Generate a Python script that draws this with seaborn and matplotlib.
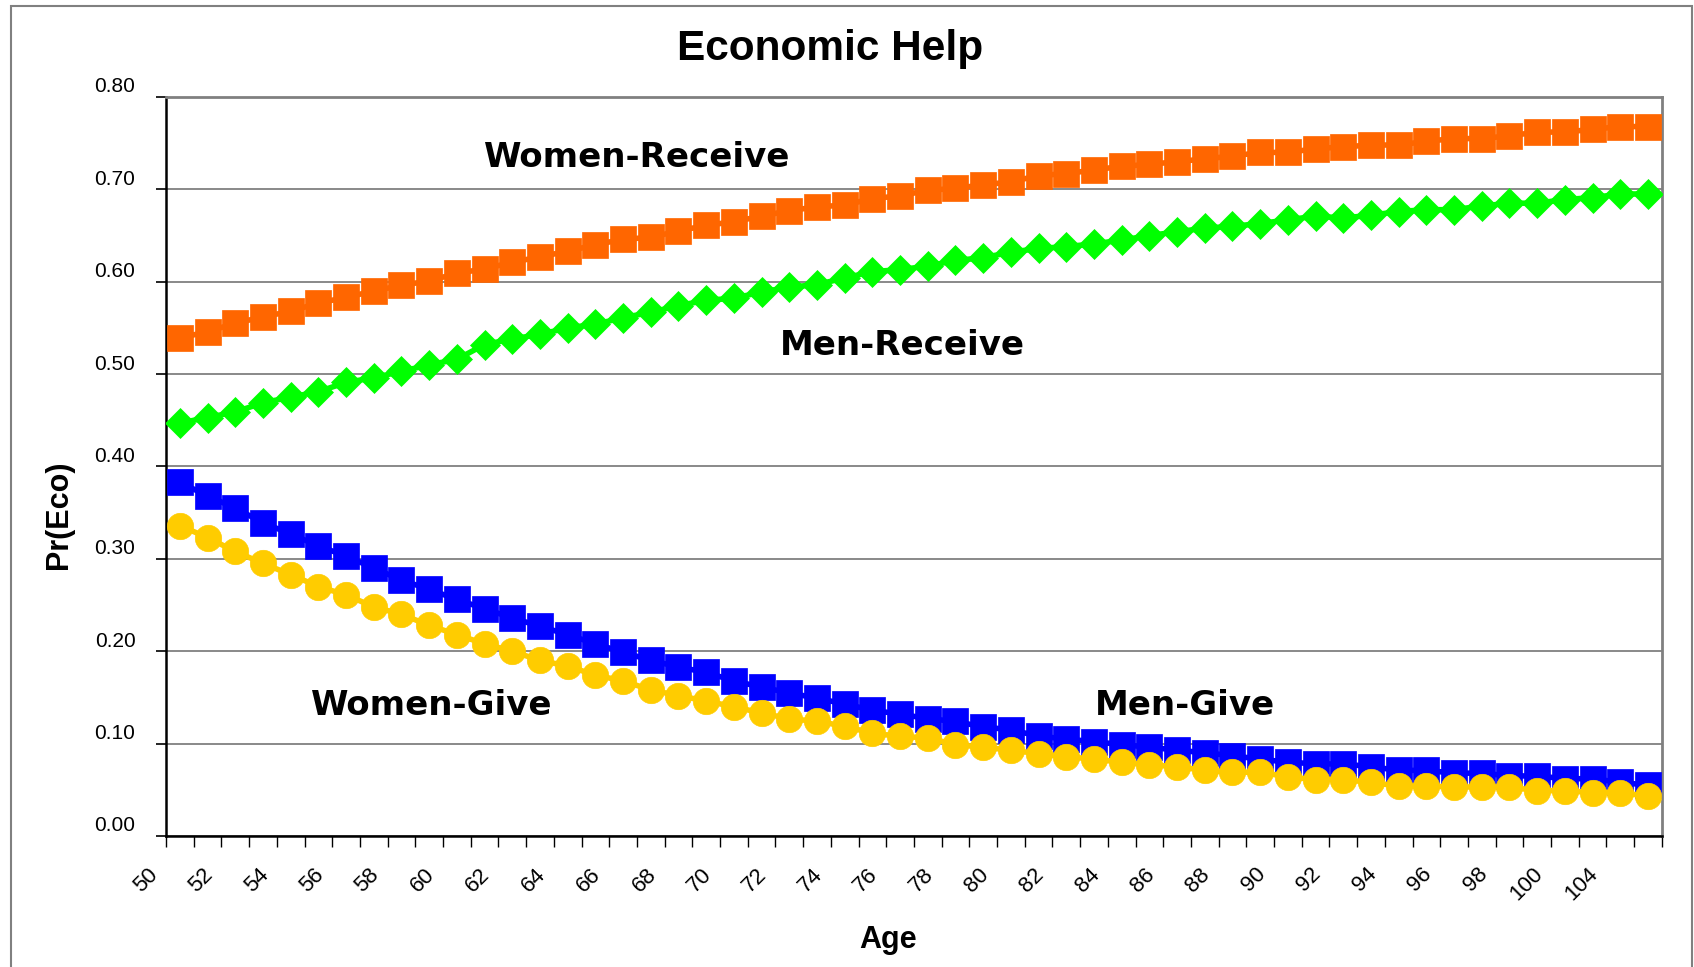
# # Economic Help 차트 재현
#
# **목표:** 나이별 경제적 도움(주기/받기) 확률 그래프를 seaborn 으로 다시 그립니다.

# ## 1.1. 라이브러리 임포트 및 설정

import numpy as np
import pandas as pd
import matplotlib.pyplot as plt
import matplotlib.transforms as mtransforms
import seaborn as sns

sns.set_style('white')
# set_style 이후에 폰트 / 글자색 지정
plt.rcParams['font.family'] = ['Liberation Sans', 'DejaVu Sans']
plt.rcParams['text.color'] = 'black'
plt.rcParams['xtick.color'] = 'black'
plt.rcParams['ytick.color'] = 'black'
plt.rcParams['axes.unicode_minus'] = False

# ## 1.2. 데이터

ages = list(range(50, 101)) + [102, 104, 106]

women_receive = [0.539, 0.546, 0.555, 0.562, 0.568, 0.577, 0.583, 0.590, 0.596, 0.601,
                 0.609, 0.614, 0.621, 0.627, 0.633, 0.640, 0.646, 0.648, 0.655, 0.661,
                 0.665, 0.671, 0.677, 0.681, 0.683, 0.690, 0.693, 0.699, 0.701, 0.705,
                 0.708, 0.715, 0.717, 0.721, 0.725, 0.727, 0.730, 0.733, 0.736, 0.740,
                 0.740, 0.744, 0.746, 0.748, 0.748, 0.752, 0.755, 0.755, 0.758, 0.762,
                 0.762, 0.765, 0.768, 0.768]

men_receive = [0.447, 0.453, 0.459, 0.469, 0.475, 0.481, 0.491, 0.496, 0.503, 0.510,
               0.516, 0.532, 0.538, 0.543, 0.550, 0.554, 0.561, 0.567, 0.574, 0.580,
               0.582, 0.589, 0.594, 0.597, 0.604, 0.611, 0.613, 0.617, 0.623, 0.626,
               0.632, 0.636, 0.638, 0.641, 0.645, 0.650, 0.654, 0.658, 0.660, 0.663,
               0.667, 0.671, 0.669, 0.672, 0.676, 0.678, 0.678, 0.682, 0.685, 0.685,
               0.689, 0.691, 0.695, 0.695]

men_give = [0.383, 0.368, 0.355, 0.339, 0.327, 0.314, 0.303, 0.290, 0.277, 0.267,
            0.256, 0.246, 0.236, 0.227, 0.218, 0.208, 0.199, 0.190, 0.183, 0.177,
            0.168, 0.161, 0.155, 0.149, 0.143, 0.136, 0.132, 0.127, 0.124, 0.118,
            0.115, 0.108, 0.105, 0.102, 0.099, 0.096, 0.093, 0.090, 0.087, 0.083,
            0.080, 0.078, 0.078, 0.075, 0.071, 0.071, 0.068, 0.068, 0.065, 0.065,
            0.062, 0.062, 0.058, 0.055]

women_give = [0.336, 0.323, 0.308, 0.295, 0.283, 0.270, 0.261, 0.248, 0.240, 0.228,
              0.218, 0.208, 0.200, 0.190, 0.184, 0.174, 0.168, 0.158, 0.152, 0.146,
              0.140, 0.133, 0.127, 0.124, 0.119, 0.111, 0.108, 0.106, 0.099, 0.096,
              0.093, 0.089, 0.086, 0.083, 0.080, 0.077, 0.075, 0.071, 0.069, 0.069,
              0.064, 0.061, 0.061, 0.058, 0.054, 0.054, 0.053, 0.053, 0.053, 0.049,
              0.049, 0.047, 0.047, 0.043]

y_ticks = [0.0, 0.1, 0.2, 0.3, 0.4, 0.5, 0.6, 0.7, 0.8]

# 카테고리 축 위치 (엑셀처럼 나이를 순서대로 배치)
df = pd.DataFrame({
    'pos': np.arange(len(ages)),
    'age': ages,
    'Women-Receive': women_receive,
    'Men-Receive': men_receive,
    'Men-Give': men_give,
    'Women-Give': women_give,
})

# ## 1.3. 그래프 그리기

fig = plt.figure(figsize=(16.94, 9.67), dpi=100)
ax = fig.add_axes([0.098, 0.1355, 0.883, 0.7642])

series_style = [
    ('Women-Receive', '#FF6600', 's', 18.5),
    ('Men-Receive', '#00FF00', 'D', 15),
    ('Men-Give', '#0000FF', 's', 18.5),
    ('Women-Give', '#FFCC00', 'o', 19),
]
for i, (col, color, marker, ms) in enumerate(series_style):
    sns.lineplot(data=df, x='pos', y=col, ax=ax, color=color, linewidth=4,
                 marker=marker, markersize=ms, markeredgecolor=color,
                 markeredgewidth=0.5, zorder=3 + i)

ax.set_xlim(-0.5, len(ages) - 0.5)
ax.set_ylim(0, 0.8)

# y축 눈금, 격자
ax.set_yticks(y_ticks)
ax.set_yticklabels([f'{v:.2f}' for v in y_ticks], fontsize=15)
ax.yaxis.grid(True, color='#808080', linewidth=1.3)
ax.tick_params(axis='y', direction='out', length=7, width=1.2, color='black', pad=15, left=True)
up = mtransforms.ScaledTranslation(0, 12 / 100, fig.dpi_scale_trans)
for lbl in ax.get_yticklabels():
    lbl.set_transform(lbl.get_transform() + up)

# x축: 라벨은 2개 간격, 눈금선은 카테고리 경계마다
ax.set_xticks(np.arange(0, len(ages), 2))
ax.set_xticklabels([str(a) for a in ages[::2]], rotation=45, ha='right', fontsize=16)
ax.set_xticks(np.arange(-0.5, len(ages), 1), minor=True)
ax.tick_params(axis='x', which='major', length=0, pad=20)
ax.tick_params(axis='x', which='minor', direction='out', length=8, width=1.0, color='black', bottom=True)
left = mtransforms.ScaledTranslation(-18 / 100, 0, fig.dpi_scale_trans)
for lbl in ax.get_xticklabels():
    lbl.set_transform(lbl.get_transform() + left)

ax.set_xlabel('')
ax.set_ylabel('')

for side in ['top', 'right']:
    ax.spines[side].set_color('#808080')
    ax.spines[side].set_linewidth(2)
for side in ['left', 'bottom']:
    ax.spines[side].set_color('black')
    ax.spines[side].set_linewidth(1.8)
ax.spines['bottom'].set_zorder(10)

# 시리즈 이름 표시
label_font = dict(fontsize=24.5, fontweight='bold', family='DejaVu Sans', color='black',
                  ha='center', va='center', zorder=10)
ax.text(16.5, 0.735, 'Women-Receive', **label_font)
ax.text(26.1, 0.531, 'Men-Receive', **label_font)
ax.text(9.1, 0.141, 'Women-Give', **label_font)
ax.text(36.3, 0.141, 'Men-Give', **label_font)

# 제목과 축 이름
fig.text(0.49, 0.949, 'Economic Help', fontsize=30.5, fontweight='bold', ha='center', va='center')
fig.text(0.0348, 0.4674, 'Pr(Eco)', fontsize=22, fontweight='bold', rotation=90, ha='center', va='center')
fig.text(0.524, 0.028, 'Age', fontsize=22, fontweight='bold', ha='center', va='center')

# 바깥 테두리
border = plt.Rectangle((11 / 1694, -0.05), (1692 - 11) / 1694, 1.05 - 6 / 967,
                       transform=fig.transFigure, fill=False, edgecolor='#808080',
                       linewidth=1.5, clip_on=False)
fig.patches.append(border)

fig.savefig('out.png', dpi=100)
print('out.png 저장 완료')
